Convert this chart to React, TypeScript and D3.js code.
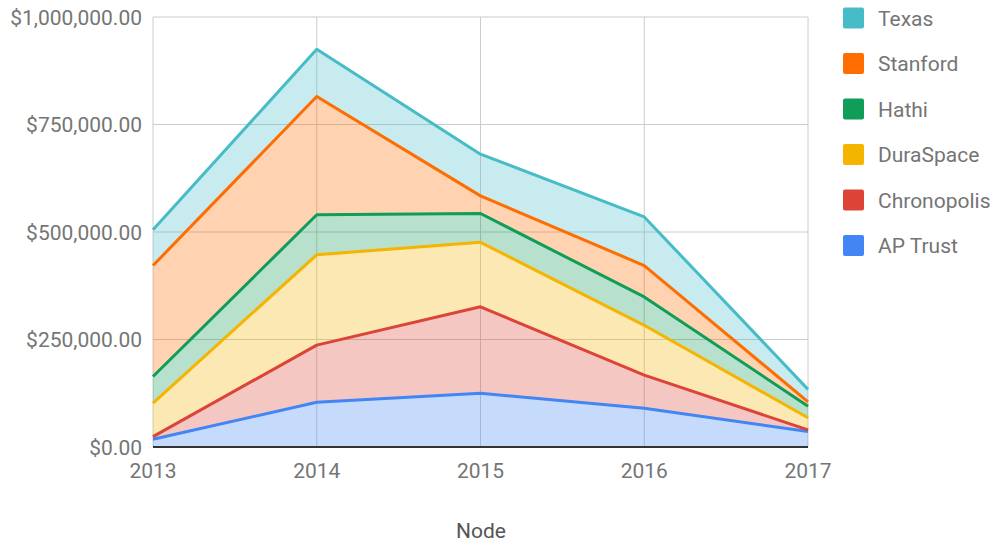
import { useEffect } from "react";
import * as d3 from "d3";

// Years on the x axis
const YEARS = [2013, 2014, 2015, 2016, 2017];

// Series values (dollars, in thousands), stacked from the bottom up
const AP_TRUST = [18, 104, 125, 90, 36];
const CHRONOPOLIS = [6, 133, 201, 77, 4];
const DURASPACE = [78, 210, 150, 116, 28];
const HATHI = [62, 93, 67, 66, 27];
const STANFORD = [258, 275, 41, 73, 10];
const TEXAS = [83, 110, 97, 113, 29];

const SERIES_NAMES = ["AP Trust", "Chronopolis", "DuraSpace", "Hathi", "Stanford", "Texas"];
const SERIES_VALUES = [AP_TRUST, CHRONOPOLIS, DURASPACE, HATHI, STANFORD, TEXAS];
const COLORS = ["#4285f4", "#db4437", "#f4b400", "#0f9d58", "#ff6d00", "#46bdc6"];

const Y_TICKS = [0, 250000, 500000, 750000, 1000000];

const W = 998;
const H = 545;
const PLOT = { left: 153, right: 808, top: 17, bottom: 447 };
const FONT = "Roboto, sans-serif";
const TEXT = "#757575";

type Row = { year: number; [k: string]: number };

export default function App() {
  useEffect(() => {
    document.body.style.margin = "0";
  }, []);

  const rows: Row[] = YEARS.map((year, i) => {
    const r: Row = { year };
    SERIES_NAMES.forEach((n, s) => (r[n] = SERIES_VALUES[s][i] * 1000));
    return r;
  });

  const stacked = d3.stack<Row>().keys(SERIES_NAMES)(rows);

  const x = d3.scaleLinear().domain([2013, 2017]).range([PLOT.left, PLOT.right]);
  const y = d3.scaleLinear().domain([0, 1000000]).range([PLOT.bottom, PLOT.top]);

  const area = d3
    .area<d3.SeriesPoint<Row>>()
    .x((d) => x(d.data.year))
    .y0((d) => y(d[0]))
    .y1((d) => y(d[1]));
  const line = d3
    .line<d3.SeriesPoint<Row>>()
    .x((d) => x(d.data.year))
    .y((d) => y(d[1]));

  const fmt = (v: number) => "$" + d3.format(",.2f")(v);

  return (
    <svg width={W} height={H} style={{ display: "block" }} fontFamily={FONT}>
      <rect width={W} height={H} fill="#fff" />
      {/* gridlines */}
      {Y_TICKS.map((t) => (
        <line key={"gy" + t} x1={PLOT.left} x2={PLOT.right} y1={y(t)} y2={y(t)} stroke="#cccccc" strokeWidth={1} />
      ))}
      {YEARS.map((yr) => (
        <line key={"gx" + yr} x1={x(yr)} x2={x(yr)} y1={PLOT.top} y2={PLOT.bottom} stroke="#cccccc" strokeWidth={1} />
      ))}
      {/* areas */}
      {stacked.map((s, i) => (
        <path key={"a" + s.key} d={area(s) ?? ""} fill={COLORS[i]} fillOpacity={0.3} />
      ))}
      {stacked.map((s, i) => (
        <path
          key={"l" + s.key}
          d={line(s) ?? ""}
          fill="none"
          stroke={COLORS[i]}
          strokeWidth={3}
          strokeLinejoin="round"
        />
      ))}
      {/* baseline */}
      <line x1={PLOT.left} x2={PLOT.right} y1={y(0)} y2={y(0)} stroke="#333" strokeWidth={2} />
      {/* y labels */}
      {Y_TICKS.map((t) => (
        <text key={"ty" + t} x={PLOT.left - 11} y={y(t)} dy="0.36em" textAnchor="end" fontSize={21} fill={TEXT}>
          {fmt(t)}
        </text>
      ))}
      {/* x labels */}
      {YEARS.map((yr) => (
        <text key={"tx" + yr} x={x(yr)} y={478} textAnchor="middle" fontSize={21} fill={TEXT}>
          {yr}
        </text>
      ))}
      <text x={481} y={538} textAnchor="middle" fontSize={21} fill="#555">
        Node
      </text>
      {/* legend, top series first */}
      {SERIES_NAMES.slice()
        .reverse()
        .map((n, i) => {
          const c = COLORS[SERIES_NAMES.indexOf(n)];
          const cy = 18 + i * 45.5;
          return (
            <g key={"lg" + n}>
              <rect x={843} y={cy - 10.5} width={21} height={21} rx={2} fill={c} />
              <text x={878} y={cy} dy="0.36em" fontSize={21} fill={TEXT}>
                {n}
              </text>
            </g>
          );
        })}
    </svg>
  );
}
